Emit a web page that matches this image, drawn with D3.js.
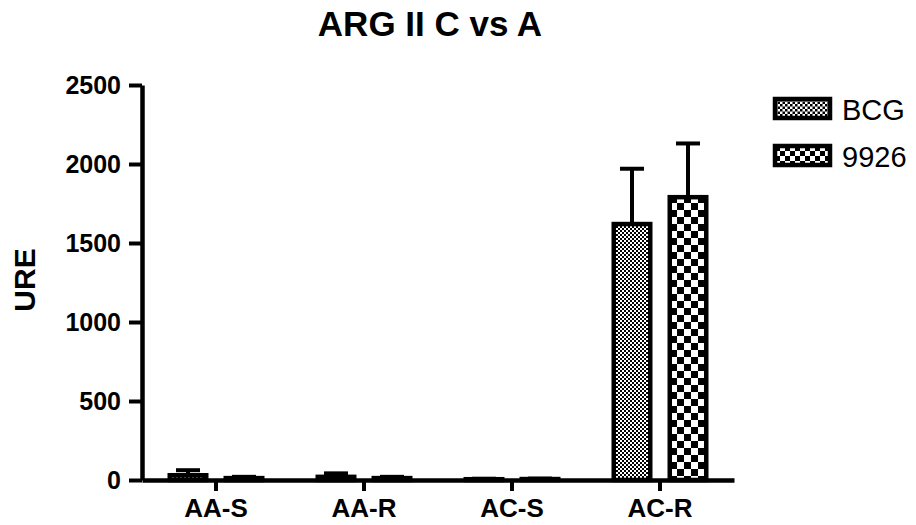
<!DOCTYPE html>
<html>
<head>
<meta charset="utf-8">
<script src="https://cdn.jsdelivr.net/npm/d3@7"></script>
<style>
  html, body { margin: 0; padding: 0; background: #fff; }
  svg text { font-family: "Liberation Sans", Arial, sans-serif; fill: #000; }
</style>
</head>
<body>
<svg id="chart" width="916" height="525"></svg>
<script>
// Group labels along the x axis
const categories = ["AA-S", "AA-R", "AC-S", "AC-R"];
// Series names (legend order)
const seriesNames = ["BCG", "9926"];
// Mean URE per group
const bcgValues = [30, 20, 5, 1620];
const v9926Values = [12, 12, 6, 1790];
// Upper error (SEM) per group
const bcgErrors = [32, 22, 3, 350];
const v9926Errors = [8, 8, 3, 340];
// Y axis ticks
const yTicks = [0, 500, 1000, 1500, 2000, 2500];

const svg = d3.select("#chart");
const plotLeft = 142, plotRight = 734, plotTop = 85, plotBottom = 480;
const strokeW = 4.5;

const x0 = d3.scaleBand().domain(categories).range([plotLeft, plotRight]).paddingInner(0).paddingOuter(0);
const bw = x0.bandwidth();
const x1 = d3.scaleBand().domain(seriesNames)
  .range([bw / 2 - 48.5, bw / 2 + 48.5]).paddingInner(0.268).paddingOuter(0);
const y = d3.scaleLinear().domain([0, 2500]).range([plotBottom, plotTop]);

// Fill patterns
const defs = svg.append("defs");
function checker(id, cell) {
  const p = defs.append("pattern").attr("id", id)
    .attr("patternUnits", "userSpaceOnUse")
    .attr("width", cell * 2).attr("height", cell * 2);
  p.append("rect").attr("width", cell * 2).attr("height", cell * 2).attr("fill", "#fff");
  p.append("rect").attr("width", cell).attr("height", cell).attr("fill", "#000");
  p.append("rect").attr("x", cell).attr("y", cell).attr("width", cell).attr("height", cell).attr("fill", "#000");
}
checker("pat-bcg", 2);
checker("pat-9926", 7);
checker("pat-bcg-leg", 2.5);
checker("pat-9926-leg", 5);

const fills = { "BCG": "url(#pat-bcg)", "9926": "url(#pat-9926)" };
const legFills = { "BCG": "url(#pat-bcg-leg)", "9926": "url(#pat-9926-leg)" };

const rows = categories.map((c, i) => ({
  cat: c,
  items: [
    { s: "BCG", v: bcgValues[i], e: bcgErrors[i] },
    { s: "9926", v: v9926Values[i], e: v9926Errors[i] }
  ]
}));

const groups = svg.append("g").selectAll("g").data(rows).join("g")
  .attr("transform", d => `translate(${x0(d.cat)},0)`);

// Error bars (upward only)
groups.selectAll("g.err").data(d => d.items).join("g").attr("class", "err")
  .each(function(d) {
    const g = d3.select(this);
    const cx = x1(d.s) + x1.bandwidth() / 2;
    g.append("line").attr("x1", cx).attr("x2", cx)
      .attr("y1", y(d.v)).attr("y2", y(d.v + d.e))
      .attr("stroke", "#000").attr("stroke-width", 4);
    g.append("line").attr("x1", cx - 12).attr("x2", cx + 12)
      .attr("y1", y(d.v + d.e)).attr("y2", y(d.v + d.e))
      .attr("stroke", "#000").attr("stroke-width", 4);
  });

// Bars
groups.selectAll("rect.bar").data(d => d.items).join("rect").attr("class", "bar")
  .attr("x", d => x1(d.s) + strokeW / 2)
  .attr("width", x1.bandwidth() - strokeW)
  .attr("y", d => y(d.v))
  .attr("height", d => Math.max(0, y(0) - y(d.v)))
  .attr("fill", d => fills[d.s])
  .attr("stroke", "#000").attr("stroke-width", strokeW);

// Y axis
const yAxis = svg.append("g").attr("transform", `translate(${plotLeft},0)`)
  .call(d3.axisLeft(y).tickValues(yTicks).tickFormat(d3.format("d")).tickSize(13).tickSizeOuter(0).tickPadding(8));
yAxis.select(".domain").attr("stroke-width", strokeW);
yAxis.selectAll(".tick line").attr("stroke-width", 4);
yAxis.selectAll(".tick text").attr("font-size", 25).attr("font-weight", "bold")
  .attr("font-family", "'Liberation Sans', Arial, sans-serif").attr("fill", "#000");

// X axis
const xAxis = svg.append("g").attr("transform", `translate(0,${plotBottom})`)
  .call(d3.axisBottom(x0).tickSize(11).tickSizeOuter(0).tickPadding(8));
xAxis.select(".domain").attr("stroke-width", strokeW);
xAxis.selectAll(".tick line").attr("stroke-width", 4);
xAxis.selectAll(".tick text").attr("font-size", 26).attr("font-weight", "bold")
  .attr("font-family", "'Liberation Sans', Arial, sans-serif").attr("fill", "#000");

// Title
svg.append("text").attr("x", 430).attr("y", 36).attr("text-anchor", "middle")
  .attr("font-size", 35).attr("font-weight", "bold").text("ARG II C vs A");

// Y axis label
svg.append("text").attr("transform", "translate(35,280) rotate(-90)")
  .attr("text-anchor", "middle").attr("font-size", 30).attr("font-weight", "bold").text("URE");

// Legend
const legend = svg.append("g").selectAll("g").data(seriesNames).join("g")
  .attr("transform", (d, i) => `translate(775,${99 + i * 47})`);
legend.append("rect").attr("width", 55).attr("height", 19)
  .attr("fill", d => legFills[d]).attr("stroke", "#000").attr("stroke-width", 4.5);
legend.append("text").attr("x", 67).attr("y", 21).attr("font-size", 29).text(d => d);
</script>
</body>
</html>
